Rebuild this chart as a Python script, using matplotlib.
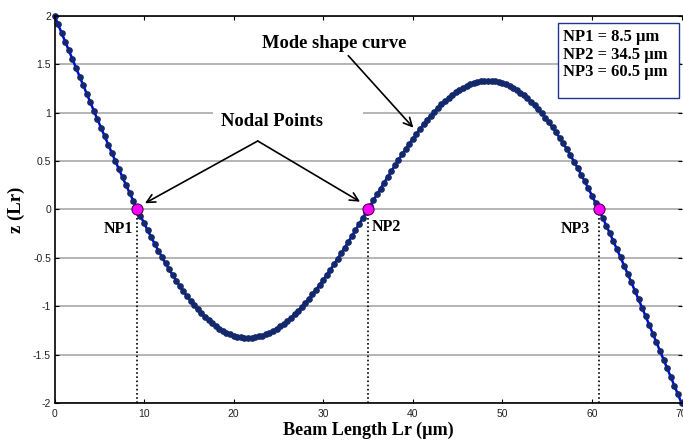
import numpy as np
import matplotlib
matplotlib.use("Agg")
import matplotlib.pyplot as plt
from matplotlib.patches import Rectangle

mode_shape = [
    2.000, 1.910, 1.820, 1.731, 1.641, 1.551, 1.462, 1.372, 1.283, 1.194,
    1.105, 1.016, 0.928, 0.841, 0.754, 0.668, 0.582, 0.497, 0.413, 0.330,
    0.248, 0.167, 0.087, 0.009, -0.068, -0.143, -0.217, -0.289, -0.359, -0.427,
    -0.494, -0.559, -0.621, -0.681, -0.739, -0.795, -0.848, -0.898, -0.946, -0.991,
    -1.034, -1.074, -1.111, -1.146, -1.177, -1.206, -1.231, -1.254, -1.273, -1.290,
    -1.303, -1.314, -1.321, -1.326, -1.327, -1.326, -1.321, -1.313, -1.303, -1.290,
    -1.273, -1.254, -1.232, -1.208, -1.181, -1.151, -1.119, -1.084, -1.047, -1.008,
    -0.966, -0.922, -0.877, -0.829, -0.780, -0.729, -0.677, -0.623, -0.568, -0.511,
    -0.454, -0.395, -0.336, -0.276, -0.215, -0.154, -0.093, -0.031,
    0.031, 0.093, 0.154, 0.215, 0.276, 0.336, 0.395, 0.454,
    0.511, 0.568, 0.623, 0.677, 0.729, 0.780, 0.829, 0.877, 0.922, 0.966,
    1.008, 1.047, 1.084, 1.119, 1.151, 1.181, 1.208, 1.232, 1.254, 1.273,
    1.290, 1.303, 1.313, 1.321, 1.326, 1.327, 1.326, 1.321, 1.314, 1.303,
    1.290, 1.273, 1.254, 1.231, 1.206, 1.177, 1.146, 1.111, 1.074, 1.034,
    0.991, 0.946, 0.898, 0.848, 0.795, 0.739, 0.681, 0.621, 0.559, 0.494,
    0.427, 0.359, 0.289, 0.217, 0.143, 0.068, -0.009, -0.087, -0.167, -0.248,
    -0.330, -0.413, -0.497, -0.582, -0.668, -0.754, -0.841, -0.928, -1.016, -1.105,
    -1.194, -1.283, -1.372, -1.462, -1.551, -1.641, -1.731, -1.820, -1.910, -2.000,
]
beam_length = np.linspace(0, 70, len(mode_shape))

node_x = [9.25, 35.0, 60.75]
node_labels = ["NP1", "NP2", "NP3"]
node_label_x = [7.1, 37.0, 58.2]
node_label_y = [-0.2, -0.18, -0.2]
box_lines = ["NP1 = 8.5 \u00b5m", "NP2 = 34.5 \u00b5m", "NP3 = 60.5 \u00b5m"]

x_ticks = [0, 10, 20, 30, 40, 50, 60, 70]
y_ticks = [-2, -1.5, -1, -0.5, 0, 0.5, 1, 1.5, 2]
y_tick_labels = ["-2", "-1.5", "-1", "-0.5", "0", "0.5", "1", "1.5", "2"]

serif = "Liberation Serif"
sans = "Liberation Sans"

fig = plt.figure(figsize=(6.83, 4.41), dpi=100)
ax = fig.add_axes([54.5 / 683, 38 / 441, 627 / 683, 387.3 / 441])

ax.set_xlim(0, 70)
ax.set_ylim(-2, 2)
ax.set_xticks(x_ticks)
ax.set_xticklabels([str(t) for t in x_ticks], family=sans, fontsize=7.5, color="#222222")
ax.set_yticks(y_ticks)
ax.set_yticklabels(y_tick_labels, family=sans, fontsize=7.5, color="#222222")
ax.tick_params(direction="in", length=3, width=0.8, top=True, right=True)
ax.tick_params(axis="x", pad=4.5)
ax.tick_params(axis="y", pad=2.5)
ax.spines["right"].set_visible(False)
for s in ["left", "bottom", "top"]:
    ax.spines[s].set_linewidth(1.2)

ax.set_axisbelow(True)
ax.yaxis.grid(True, color="#a0a0a0", lw=1.1)

# white patch behind "Nodal Points" (hides part of the grid line)
ax.add_patch(Rectangle((17.7, 0.613), 16.74, 0.568, fc="white", ec="none", zorder=1))

ax.plot(beam_length, mode_shape, "-", color="#0000ff", lw=1.8, marker="o", ms=3.8,
        mfc="#13296b", mec="#13296b", zorder=2, clip_on=False)

ax.vlines(node_x, -2, 0, colors="black", linestyles=(0, (1, 1.5)), lw=1.2, zorder=2)
ax.plot(node_x, [0, 0, 0], "o", ms=8, mfc="#ff00ff", mec="#4a004a", mew=0.8, zorder=4)

for lab, lx, ly in zip(node_labels, node_label_x, node_label_y):
    ax.text(lx, ly, lab, family=serif, fontweight="bold", fontsize=11.5,
            ha="center", va="center", zorder=5)

ax.text(24.25, 0.905, "Nodal Points", family=serif, fontweight="bold", fontsize=13.4,
        ha="center", va="center", zorder=5)
ax.text(31.28, 1.715, "Mode shape curve", family=serif, fontweight="bold", fontsize=13.3,
        ha="center", va="center", zorder=5)

arrow = dict(arrowstyle="->", color="black", lw=1.2, shrinkA=0, shrinkB=0, mutation_scale=15)
ax.annotate("", xy=(10.10, 0.063), xytext=(22.69, 0.706), arrowprops=arrow, zorder=3)
ax.annotate("", xy=(34.11, 0.079), xytext=(22.69, 0.706), arrowprops=arrow, zorder=3)
ax.annotate("", xy=(40.06, 0.843), xytext=(32.80, 1.587), arrowprops=arrow, zorder=3)

# box with the nodal point values
ax.add_patch(Rectangle((56.21, 1.15), 13.51, 0.775, fc="white", ec="#1f3590", lw=1.0, zorder=4))
for i, line in enumerate(box_lines):
    ax.text(56.74, 1.783 - 0.184 * i, line, family=serif, fontweight="bold", fontsize=11.9,
            ha="left", va="center", zorder=5)

fig.text(368 / 683, 1 - 430 / 441, "Beam Length Lr (\u00b5m)", family=serif, fontweight="bold",
         fontsize=13.1, ha="center", va="center")
fig.text(16.7 / 683, 1 - 210 / 441, "z (Lr)", family=serif, fontweight="bold",
         fontsize=13.5, rotation=90, ha="center", va="center")

fig.savefig("out.png", dpi=100)
